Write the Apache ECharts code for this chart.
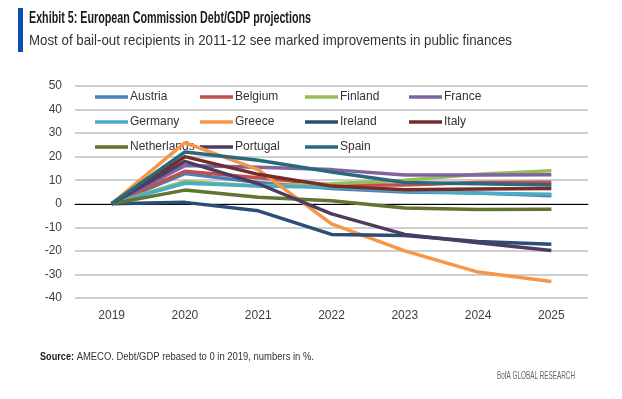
<!DOCTYPE html>
<html>
<head>
<meta charset="utf-8">
<title>Debt/GDP projections</title>
<script src="https://cdn.jsdelivr.net/npm/echarts@6/dist/echarts.min.js"></script>
<style>
  html, body { margin: 0; padding: 0; background: #fff; }
  #chart { width: 622px; height: 399px; }
</style>
</head>
<body>
<div id="chart"></div>
<script>
// data (Debt/GDP rebased to 0 in 2019, %)
var years = ['2019', '2020', '2021', '2022', '2023', '2024', '2025'];
var yTicks = [-40, 50, 10]; // min, max, step

var austria     = [0, 12.8, 9.0, 6.5, 5.0, 4.6, 3.4];
var belgium     = [0, 13.8, 11.0, 8.0, 8.0, 9.0, 9.1];
var finland     = [0, 9.5, 7.5, 8.5, 10.0, 12.5, 14.0];
var france      = [0, 16.2, 15.5, 14.5, 12.2, 12.2, 12.3];
var germany     = [0, 8.7, 7.5, 7.0, 5.5, 4.5, 4.0];
var greece      = [0, 26.0, 14.5, -8.5, -20.0, -29.0, -33.0];
var ireland     = [0, 0.6, -3.0, -13.0, -13.5, -16.0, -17.2];
var italy       = [0, 20.0, 12.5, 7.5, 6.0, 6.3, 6.5];
var netherlands = [0, 5.8, 2.8, 1.3, -1.8, -2.4, -2.3];
var portugal    = [0, 18.0, 8.5, -4.3, -13.0, -16.5, -19.8];
var spain       = [0, 22.0, 18.5, 13.5, 9.0, 8.5, 8.0];

var names  = ['Austria', 'Belgium', 'Finland', 'France', 'Germany', 'Greece',
              'Ireland', 'Italy', 'Netherlands', 'Portugal', 'Spain'];
var values = [austria, belgium, finland, france, germany, greece,
              ireland, italy, netherlands, portugal, spain];
var colors = ['#4a7ebb', '#c0504d', '#9bbb59', '#8064a2', '#4bacc6', '#f79646',
              '#2c4d75', '#772c2a', '#5f7530', '#4d3b62', '#276a7c'];

var series = [];
for (var i = 0; i < names.length; i++) {
    series.push({
        name: names[i],
        type: 'line',
        data: values[i],
        symbol: 'none',
        color: colors[i],
        lineStyle: { width: 3.5, color: colors[i] },
        z: 2 + i
    });
}

// squeeze text horizontally to get the condensed look of the original
function fitScale(text, font, target) {
    var c = document.createElement('canvas').getContext('2d');
    c.font = font;
    return target / c.measureText(text).width;
}

var titleTxt = 'Exhibit 5: European Commission Debt/GDP projections';
var subTxt = 'Most of bail-out recipients in 2011-12 see marked improvements in public finances';
var titleFont = 'bold 16px "Liberation Sans"';
var subFont = '15px "Liberation Sans"';
var srcBold = 'Source:';
var srcRest = ' AMECO. Debt/GDP rebased to 0 in 2019, numbers in %.';
var srcFontB = 'bold 10px "Liberation Sans"';
var srcFont = '10px "Liberation Sans"';
var bofaFont = '11px "Liberation Sans"';
var bofa = 'BofA GLOBAL RESEARCH';

var sTitle = fitScale(titleTxt, titleFont, 282);
var sSub = fitScale(subTxt, subFont, 483);
var sSrcB = fitScale(srcBold, srcFontB, 34);
var sSrc = fitScale(srcRest, srcFont, 240);
var sBofa = fitScale(bofa, bofaFont, 78);

function legendCol(left, items) {
    return {
        orient: 'vertical',
        left: left,
        top: 85,
        itemWidth: 33,
        itemHeight: 3.5,
        itemGap: 11,
        icon: 'rect',
        data: items,
        textStyle: { fontFamily: 'Liberation Sans', fontSize: 12, color: '#333',
                     padding: [0, 0, 0, -3], lineHeight: 14 }
    };
}

var chart = echarts.init(document.getElementById('chart'));
chart.setOption({
    backgroundColor: '#fff',
    animation: false,
    grid: { left: 75, right: 34, top: 86, bottom: 101 },
    legend: [
        legendCol(90, ['Austria', 'Germany', 'Netherlands']),
        legendCol(195, ['Belgium', 'Greece', 'Portugal']),
        legendCol(300, ['Finland', 'Ireland', 'Spain']),
        legendCol(404, ['France', 'Italy'])
    ],
    xAxis: {
        type: 'category',
        data: years,
        boundaryGap: true,
        axisLine: { onZero: true, lineStyle: { color: '#000', width: 1 } },
        axisTick: { show: false },
        axisLabel: { fontFamily: 'Liberation Sans', fontSize: 12, color: '#404040', margin: 12 }
    },
    yAxis: {
        type: 'value',
        min: yTicks[0],
        max: yTicks[1],
        interval: yTicks[2],
        axisLine: { show: false },
        axisTick: { show: false },
        axisLabel: { fontFamily: 'Liberation Sans', fontSize: 12, color: '#404040', margin: 13 },
        splitLine: { lineStyle: { color: '#bfbfbf', width: 1.5 } }
    },
    series: series,
    graphic: [
        { type: 'rect', shape: { x: 18, y: 8, width: 5, height: 44 }, style: { fill: '#0a4fb5' } },
        { type: 'text', x: 29, y: 11, scaleX: sTitle,
          style: { text: titleTxt, font: titleFont, fill: '#1a1a1a' } },
        { type: 'text', x: 29, y: 33, scaleX: sSub,
          style: { text: subTxt, font: subFont, fill: '#333' } },
        { type: 'text', x: 40, y: 352, scaleX: sSrcB,
          style: { text: srcBold, font: srcFontB, fill: '#1a1a1a' } },
        { type: 'text', x: 74, y: 352, scaleX: sSrc,
          style: { text: srcRest, font: srcFont, fill: '#333' } },
        { type: 'text', x: 497, y: 370, scaleX: sBofa,
          style: { text: bofa, font: bofaFont, fill: '#666' } }
    ]
});
</script>
</body>
</html>
